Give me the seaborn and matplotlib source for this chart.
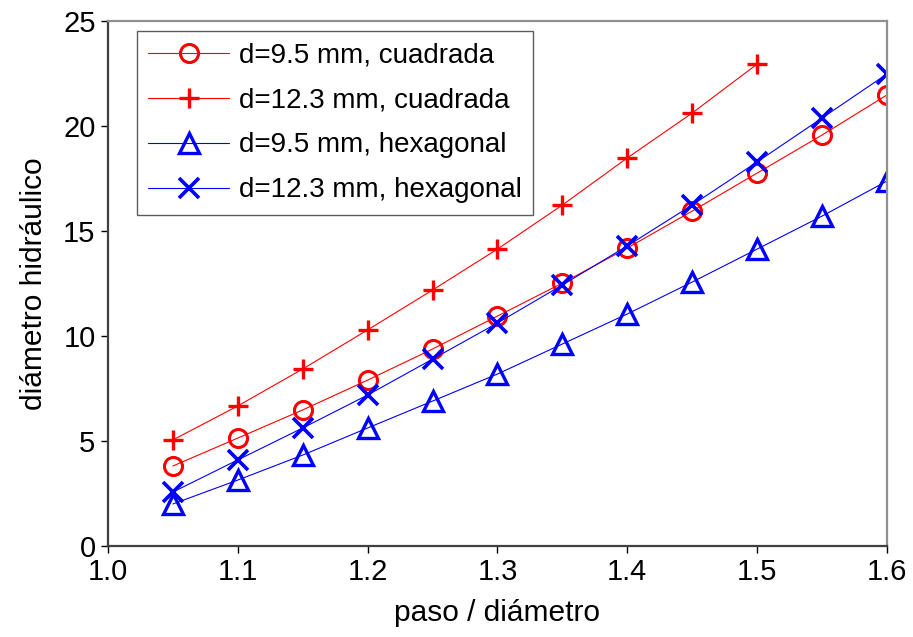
import matplotlib
matplotlib.use("Agg")
import matplotlib.pyplot as plt
import seaborn as sns
import pandas as pd

x_full = [1.05, 1.10, 1.15, 1.20, 1.25, 1.30, 1.35, 1.40, 1.45, 1.50, 1.55, 1.60]
x_short = [1.05, 1.10, 1.15, 1.20, 1.25, 1.30, 1.35, 1.40, 1.45, 1.50]

cuad_95 = [3.81, 5.14, 6.48, 7.90, 9.38, 10.95, 12.52, 14.19, 15.95, 17.76, 19.57, 21.48]
cuad_123 = [5.05, 6.67, 8.43, 10.29, 12.19, 14.14, 16.24, 18.48, 20.62, 22.95]
hex_95 = [2.00, 3.14, 4.33, 5.62, 6.90, 8.19, 9.62, 11.05, 12.57, 14.14, 15.71, 17.38]
hex_123 = [2.57, 4.10, 5.62, 7.19, 8.90, 10.62, 12.43, 14.29, 16.24, 18.29, 20.38, 22.48]

labels = ["d=9.5 mm, cuadrada", "d=12.3 mm, cuadrada",
          "d=9.5 mm, hexagonal", "d=12.3 mm, hexagonal"]
xticks = [1.0, 1.1, 1.2, 1.3, 1.4, 1.5, 1.6]
yticks = [0, 5, 10, 15, 20, 25]

sns.set_style("white")
plt.rcParams['font.family'] = ['Liberation Sans', 'DejaVu Sans']
plt.rcParams['text.color'] = 'black'
plt.rcParams['axes.labelcolor'] = 'black'

fig = plt.figure(figsize=(9.13, 6.37), dpi=100)
ax = fig.add_axes([0.1183, 0.1429, 0.8532, 0.8241])

series = [
    (x_full, cuad_95, labels[0], "#ff0000", "o", 13, 2.2),
    (x_short, cuad_123, labels[1], "#ff0000", "+", 15, 2.4),
    (x_full, hex_95, labels[2], "#0000ff", "^", 14, 2.4),
    (x_full, hex_123, labels[3], "#0000ff", "x", 15, 2.6),
]
for xs, ys, lab, col, mk, ms, mew in series:
    df = pd.DataFrame({"x": xs, "y": ys})
    sns.lineplot(data=df, x="x", y="y", ax=ax, color=col, lw=0.8,
                 marker=mk, markersize=ms, markerfacecolor="none",
                 markeredgecolor=col, markeredgewidth=mew, label=lab)

ax.set_xlim(1.0, 1.6)
ax.set_ylim(0, 25)
ax.set_xticks(xticks)
ax.set_xticklabels([f"{v:.1f}" for v in xticks])
ax.set_yticks(yticks)
ax.tick_params(axis="both", direction="out", length=5, width=1, labelsize=21,
               colors="#000000", bottom=True, left=True, pad=4)
ax.set_xlabel("paso / diámetro", fontsize=21.5, labelpad=9)
ax.set_ylabel("diámetro hidráulico", fontsize=21.5, labelpad=11)

for s in ["left", "bottom"]:
    ax.spines[s].set_color("#404040")
    ax.spines[s].set_linewidth(1.6)
for s in ["top", "right"]:
    ax.spines[s].set_color("#909090")
    ax.spines[s].set_linewidth(1.6)

leg = ax.legend(loc="upper left", bbox_to_anchor=(0.037, 0.981), fontsize=20,
                frameon=True, fancybox=False, edgecolor="#333333",
                borderpad=0.42, labelspacing=0.68, handlelength=2.9,
                handletextpad=0.35, borderaxespad=0)
leg.get_frame().set_linewidth(1.0)

fig.savefig("out.png", dpi=100)
